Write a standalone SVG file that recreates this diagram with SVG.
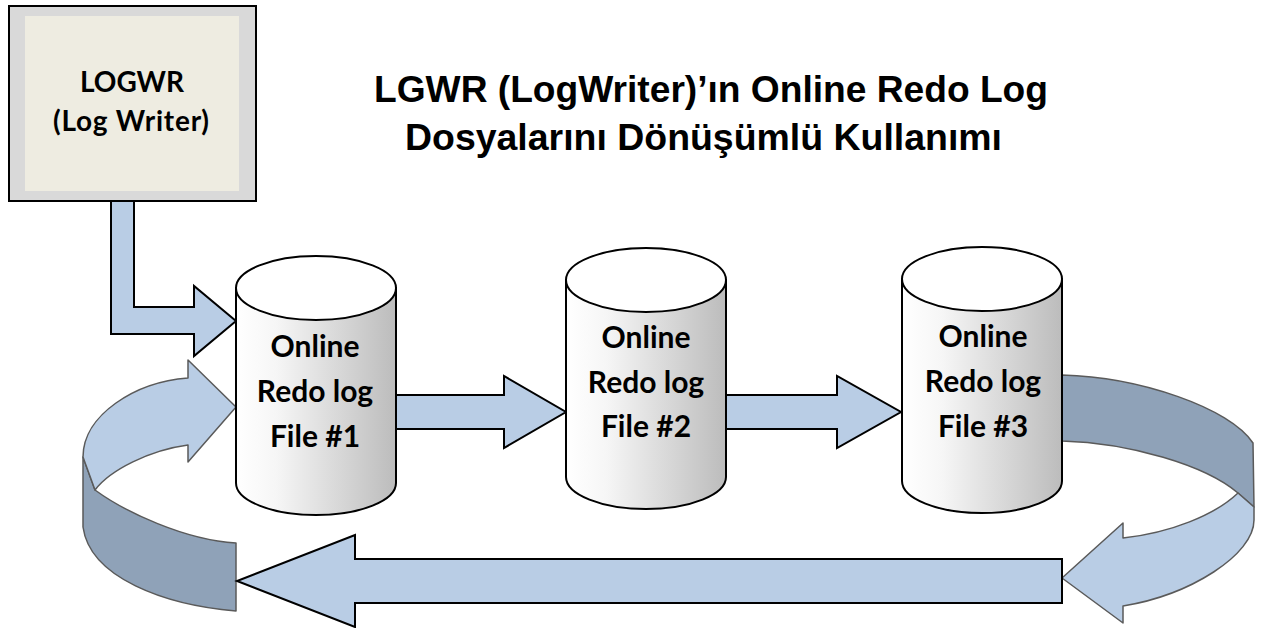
<svg xmlns="http://www.w3.org/2000/svg" width="1264" height="628" viewBox="0 0 1264 628">
  <defs>
    <linearGradient id="cylBody" x1="0" y1="0" x2="1" y2="0">
      <stop offset="0" stop-color="#ffffff"/>
      <stop offset="0.25" stop-color="#f6f6f6"/>
      <stop offset="1" stop-color="#bcbcbc"/>
    </linearGradient>
  </defs>
  <style>
    .node-text { font-family: Lato, "Open Sans", sans-serif; font-weight: bold; fill: #000; text-anchor: middle; }
    .title { font-family: "Liberation Sans", Arial, sans-serif; font-weight: bold; font-size: 36px; fill: #000; }
    .arrow { fill: #b9cde5; stroke: #000; stroke-width: 2; stroke-linejoin: miter; }
    .curve-top { fill: #b9cde5; stroke: #5a5a5a; stroke-width: 1.5; stroke-linejoin: round; }
    .curve-side { fill: #8fa2b8; stroke: #5a5a5a; stroke-width: 1.5; stroke-linejoin: round; }
    .cyl-body { fill: url(#cylBody); stroke: #000; stroke-width: 2; }
    .cyl-top { fill: #ffffff; stroke: #000; stroke-width: 2; }
  </style>

  <rect width="1264" height="628" fill="#ffffff"/>

  <!-- Title -->
  <g id="title">
    <text class="title" x="374" y="102" textLength="674" lengthAdjust="spacingAndGlyphs">LGWR (LogWriter)’ın Online Redo Log</text>
    <text class="title" x="405" y="150" textLength="597" lengthAdjust="spacingAndGlyphs">Dosyalarını Dönüşümlü Kullanımı</text>
  </g>

  <!-- Connectors -->
  <g id="connectors">
    <!-- curved return arrow, left -->
    <path class="curve-side" d="M83,457 L95,490 C125,512 185,540 236,543 L236,611 C165,605 90,578 83,527 Z"/>
    <path class="curve-top" d="M83,457 C83,415 135,382 188,378 L188,360 L236,407 L188,462 L188,445 C150,450 110,470 95,490 Z"/>
    <!-- curved return arrow, right -->
    <path class="curve-side" d="M1062,375 C1140,377 1230,408 1253,443 L1254,507 L1238,493 C1205,465 1130,443 1062,441 Z"/>
    <path class="curve-top" d="M1238,493 L1254,507 L1254,520 C1254,555 1190,595 1123,606 L1123,623 L1062,578 L1123,523 L1123,538 C1170,533 1215,515 1238,493 Z"/>
    <!-- LOGWR to file #1 -->
    <path class="arrow" d="M111,201 L111,334 L194,334 L194,356 L236,321 L194,286 L194,307 L134,307 L134,201 Z"/>
    <!-- file #1 to file #2 -->
    <path class="arrow" d="M380,395 L504,395 L504,376 L566,412 L504,448 L504,429 L380,429 Z"/>
    <!-- file #2 to file #3 -->
    <path class="arrow" d="M710,395 L837,395 L837,376 L901,412 L837,448 L837,429 L710,429 Z"/>
    <!-- file #3 back to file #1 -->
    <path class="arrow" d="M1062,559 L355,559 L355,535 L237,581 L355,627 L355,603 L1062,603 Z"/>
  </g>

  <!-- Log writer process -->
  <g id="logwr">
    <rect x="9" y="6" width="247" height="195" fill="#d9d9d9" stroke="#000" stroke-width="2"/>
    <rect x="25" y="16" width="214" height="175" fill="#eeece1"/>
    <text class="node-text" x="132" y="92" font-size="28">LOGWR</text>
    <text class="node-text" x="131" y="131" font-size="28" textLength="156" lengthAdjust="spacing">(Log Writer)</text>
  </g>

  <!-- Online redo log file #1 -->
  <g id="redo1">
    <path class="cyl-body" d="M236,288 L236,483 A80,32 0 0 0 396,483 L396,288 Z"/>
    <ellipse class="cyl-top" cx="316" cy="288" rx="80" ry="32"/>
    <text class="node-text" x="315" y="357" font-size="30">Online</text>
    <text class="node-text" x="315" y="402" font-size="30">Redo log</text>
    <text class="node-text" x="315" y="447" font-size="30">File #1</text>
  </g>

  <!-- Online redo log file #2 -->
  <g id="redo2">
    <path class="cyl-body" d="M566,280 L566,477 A80,32 0 0 0 726,477 L726,280 Z"/>
    <ellipse class="cyl-top" cx="646" cy="280" rx="80" ry="32"/>
    <text class="node-text" x="646" y="348" font-size="30">Online</text>
    <text class="node-text" x="646" y="393" font-size="30">Redo log</text>
    <text class="node-text" x="646" y="437" font-size="30">File #2</text>
  </g>

  <!-- Online redo log file #3 -->
  <g id="redo3">
    <path class="cyl-body" d="M902,279 L902,481 A80,32 0 0 0 1062,481 L1062,279 Z"/>
    <ellipse class="cyl-top" cx="982" cy="279" rx="80" ry="32"/>
    <text class="node-text" x="983" y="347" font-size="30">Online</text>
    <text class="node-text" x="983" y="392" font-size="30">Redo log</text>
    <text class="node-text" x="983" y="437" font-size="30">File #3</text>
  </g>
</svg>
